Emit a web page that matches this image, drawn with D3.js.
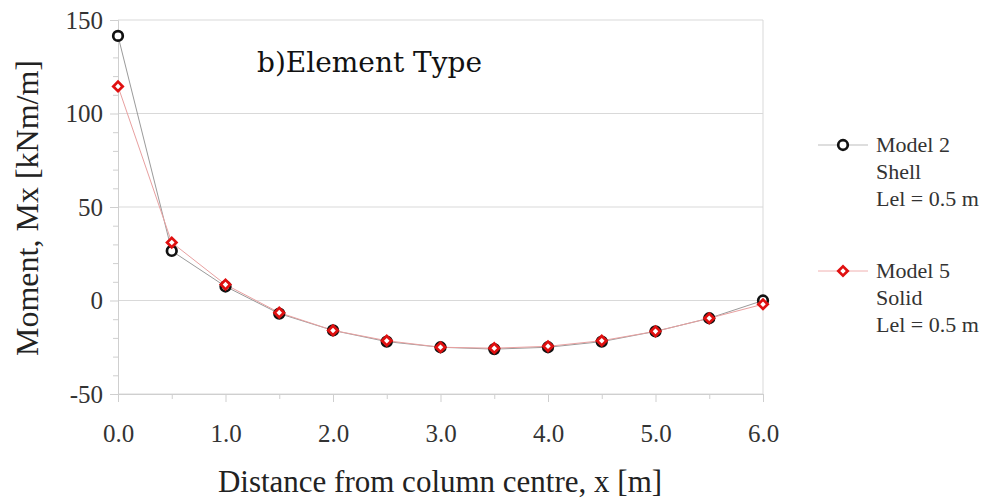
<!DOCTYPE html>
<html><head><meta charset="utf-8">
<script src="https://cdn.jsdelivr.net/npm/d3@7"></script>
<style>body{margin:0;background:#fff}svg{display:block}</style>
</head><body>
<svg id="c" width="992" height="501"></svg>
<script>
const xValues = [0,0.5,1.0,1.5,2.0,2.5,3.0,3.5,4.0,4.5,5.0,5.5,6.0];
const model2Shell = [141.5,26.5,7.5,-7,-16,-22,-25,-26,-25,-22,-16.5,-9.5,0];
const model5Solid = [114.5,31,8.5,-6.5,-16,-21.5,-25,-25.5,-24.5,-21.5,-16.5,-9.5,-2];
const xTicks = [0,1,2,3,4,5,6];
const yTicks = [-50,0,50,100,150];
const legendLabels = [["Model 2","Shell","Lel = 0.5 m"],["Model 5","Solid","Lel = 0.5 m"]];
const title = "b)Element Type";

const svg = d3.select("#c");
const x = d3.scaleLinear().domain([0,6]).range([118,763]);
const y = d3.scaleLinear().domain([-50,150]).range([394,20]);
const serif = "'Liberation Serif', 'DejaVu Serif', serif";

// gridlines
svg.append("g").selectAll("line").data(yTicks).join("line")
  .attr("x1",x(0)).attr("x2",x(6)).attr("y1",d=>y(d)).attr("y2",d=>y(d))
  .attr("stroke","#d9d9d9").attr("stroke-width",1);
// right border
svg.append("line").attr("x1",x(6)).attr("x2",x(6)).attr("y1",y(150)).attr("y2",y(-50))
  .attr("stroke","#d9d9d9");

// y axis
const yAxis = svg.append("g").attr("transform",`translate(${x(0)},0)`)
  .call(d3.axisLeft(y).tickValues(d3.range(-50,151,10)).tickSize(6).tickFormat(d=>yTicks.includes(d)?String(d):""));
yAxis.select(".domain").attr("stroke","#cfcfcf");
yAxis.selectAll(".tick line").attr("stroke","#cfcfcf").attr("x2",d=>yTicks.includes(d)?-8:-5);
yAxis.selectAll(".tick text").attr("font-family",serif).attr("font-size",25).attr("fill","#333").attr("x",-15);

// x axis
const xAxis = svg.append("g").attr("transform",`translate(0,${y(-50)})`)
  .call(d3.axisBottom(x).tickValues(d3.range(0,6.01,0.5)).tickSize(7).tickFormat(d=>Number.isInteger(d)?d3.format(".1f")(d):""));
xAxis.select(".domain").attr("stroke","#cfcfcf");
xAxis.selectAll(".tick line").attr("stroke","#cfcfcf").attr("y2",d=>Number.isInteger(d)?8:5);
xAxis.selectAll(".tick text").attr("font-family",serif).attr("font-size",25).attr("fill","#333")
  .attr("dy",null).attr("y",48);

// axis titles
svg.append("text").attr("x",440).attr("y",492).attr("text-anchor","middle")
  .attr("font-family",serif).attr("font-size",31).attr("fill","#222")
  .text("Distance from column centre, x [m]");
svg.append("text").attr("transform","translate(38,208) rotate(-90)").attr("text-anchor","middle")
  .attr("font-family",serif).attr("font-size",32).attr("fill","#222")
  .text("Moment, Mx [kNm/m]");

// title
svg.append("text").attr("x",257).attr("y",72).attr("font-family","'DejaVu Serif', serif")
  .attr("font-size",28).attr("fill","#111").text(title);

const line = d3.line().x((d,i)=>x(xValues[i])).y(d=>y(d));
svg.append("path").datum(model2Shell).attr("d",line).attr("fill","none").attr("stroke","#9a9a9a").attr("stroke-width",1);
svg.append("path").datum(model5Solid).attr("d",line).attr("fill","none").attr("stroke","#e8a0a0").attr("stroke-width",1);

const diamond = d3.symbol().type(d3.symbolSquare).size(44);
function circleMark(g,cx,cy){
  g.append("circle").attr("cx",cx).attr("cy",cy).attr("r",4.8).attr("fill","#fff").attr("stroke","#111").attr("stroke-width",2.7);
}
function diamondMark(g,cx,cy){
  g.append("path").attr("d",diamond()).attr("transform",`translate(${cx},${cy}) rotate(45)`)
   .attr("fill","#fff").attr("stroke","#e01010").attr("stroke-width",2.7);
}
const g2 = svg.append("g");
model2Shell.forEach((v,i)=>circleMark(g2,x(xValues[i]),y(v)));
const g5 = svg.append("g");
model5Solid.forEach((v,i)=>diamondMark(g5,x(xValues[i]),y(v)));

// legend
const legY = [145,271];
const legColors = ["#bdbdbd","#f0b0b0"];
legendLabels.forEach((lines,k)=>{
  const g = svg.append("g");
  g.append("line").attr("x1",818).attr("x2",868).attr("y1",legY[k]).attr("y2",legY[k]).attr("stroke",legColors[k]);
  if(k===0) circleMark(g,843,legY[k]); else diamondMark(g,843,legY[k]);
  lines.forEach((t,j)=>{
    g.append("text").attr("x",876).attr("y",legY[k]+7+j*27).attr("font-family",serif)
     .attr("font-size",22).attr("fill","#333").text(t);
  });
});
</script>
</body></html>
